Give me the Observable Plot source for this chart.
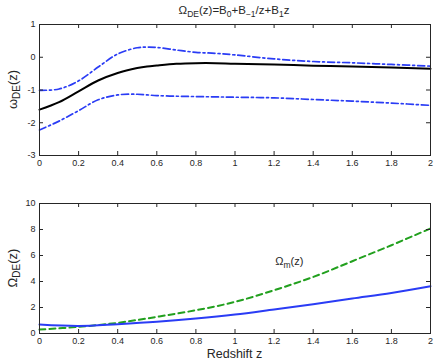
<!DOCTYPE html>
<html><head><meta charset="utf-8">
<script src="https://cdn.jsdelivr.net/npm/d3@7"></script>
<script src="https://cdn.jsdelivr.net/npm/@observablehq/plot@0.6"></script>
<style>
body{margin:0;background:#fff;}
#wrap{position:relative;width:436px;height:362px;font-family:"Liberation Sans",Arial,sans-serif;color:#262626;}
#title{height:20px;position:relative;}
#title span{position:absolute;left:234px;top:4px;transform:translateX(-50%);font-size:11.5px;white-space:nowrap;}
sub{font-size:8.5px;vertical-align:-3px;line-height:0;}
svg{display:block;}
</style></head>
<body><div id="wrap"><div id="title"><span>Ω<sub>DE</sub>(z)=B<sub>0</sub>+B<sub>−1</sub>/z+B<sub>1</sub>z</span></div></div>
<script>
// ---- data ----
const zTop = [0,0.1,0.2,0.3,0.4,0.5,0.55,0.6,0.7,0.8,0.9,1.0,1.2,1.4,1.6,1.8,2.0];
const wCentral = [-1.6,-1.37,-1.04,-0.71,-0.48,-0.33,-0.28,-0.25,-0.2,-0.18,-0.18,-0.2,-0.22,-0.26,-0.28,-0.31,-0.35];
const wUpper =   [-1.01,-0.97,-0.72,-0.3,0.1,0.29,0.31,0.3,0.22,0.15,0.12,0.07,-0.05,-0.13,-0.17,-0.22,-0.27];
const wLower =   [-2.22,-1.95,-1.63,-1.3,-1.15,-1.13,-1.15,-1.17,-1.19,-1.2,-1.21,-1.22,-1.24,-1.29,-1.34,-1.4,-1.47];
const zBot = [0,0.2,0.4,0.6,0.8,1.0,1.2,1.4,1.6,1.8,2.0];
const omegaDE = [0.69,0.58,0.72,0.9,1.15,1.46,1.85,2.25,2.69,3.12,3.64];
const omegaM =  [0.3,0.51,0.82,1.28,1.79,2.43,3.33,4.35,5.56,6.79,8.08];
const xTicks = [0,0.2,0.4,0.6,0.8,1,1.2,1.4,1.6,1.8,2];
const yTicksTop = [-3,-2,-1,0,1];
const yTicksBot = [0,2,4,6,8,10];
const annotation = {z: 1.28, y: 5.2};

const W = 436, ML = 39, MR = 6;
const ink = "#262626", blue = "#2a3cf5", green = "#22a01e";
const fmt = d => String(d);
const font = {fontSize: "9px", fontFamily: "'Liberation Sans',Arial,sans-serif", color: ink, background: "#fff"};

function frameMarks(xt, yt, ph) {
  const pw = W - ML - MR;
  return [
    Plot.axisX(xt, {tickSize: 0, tickPadding: 4, tickFormat: fmt, label: null}),
    Plot.axisY(yt, {tickSize: 0, tickPadding: 4, tickFormat: fmt, label: null}),
    Plot.tickX(xt, {x: d => d, insetTop: ph - 4, stroke: ink}),
    Plot.tickX(xt, {x: d => d, insetBottom: ph - 4, stroke: ink}),
    Plot.tickY(yt, {y: d => d, insetRight: pw - 4, stroke: ink}),
    Plot.tickY(yt, {y: d => d, insetLeft: pw - 4, stroke: ink}),
    Plot.frame({stroke: ink, strokeWidth: 1})
  ];
}

function addYLabel(svg, cx, cy, main, sub, tail) {
  const t = d3.select(svg).append("text")
    .attr("transform", `translate(${cx},${cy}) rotate(-90)`)
    .attr("text-anchor", "middle").attr("fill", ink)
    .attr("font-size", 13).attr("font-family", "'Liberation Sans',Arial,sans-serif");
  t.append("tspan").text(main);
  t.append("tspan").attr("font-size", 10).attr("dy", 3).text(sub);
  t.append("tspan").attr("dy", -3).text(tail);
}

// ---- top panel ----
const topRows = zTop.map((z, i) => ({z, c: wCentral[i], u: wUpper[i], l: wLower[i]}));
const H1 = 160, MT1 = 4, MB1 = 25;
const topChart = Plot.plot({
  width: W, height: H1, marginLeft: ML, marginRight: MR, marginTop: MT1, marginBottom: MB1,
  style: font,
  x: {domain: [0, 2]},
  y: {domain: [-3, 1]},
  marks: [
    Plot.line(topRows, {x: "z", y: "u", stroke: blue, strokeWidth: 1.7, strokeDasharray: "7,3,2,3", curve: "catmull-rom"}),
    Plot.line(topRows, {x: "z", y: "l", stroke: blue, strokeWidth: 1.7, strokeDasharray: "7,3,2,3", curve: "catmull-rom"}),
    Plot.line(topRows, {x: "z", y: "c", stroke: "#000", strokeWidth: 2, curve: "catmull-rom"}),
    ...frameMarks(xTicks, yTicksTop, H1 - MT1 - MB1)
  ]
});
addYLabel(topChart, 17, (MT1 + H1 - MB1) / 2, "ω", "DE", "(z)");
document.getElementById("wrap").appendChild(topChart);

// ---- bottom panel ----
const botRows = zBot.map((z, i) => ({z, de: omegaDE[i], m: omegaM[i]}));
const H2 = 182, MT2 = 23, MB2 = 29;
const botChart = Plot.plot({
  width: W, height: H2, marginLeft: ML, marginRight: MR, marginTop: MT2, marginBottom: MB2,
  style: font,
  x: {domain: [0, 2]},
  y: {domain: [0, 10]},
  marks: [
    Plot.line(botRows, {x: "z", y: "m", stroke: green, strokeWidth: 2, strokeDasharray: "6,4", curve: "catmull-rom"}),
    Plot.line(botRows, {x: "z", y: "de", stroke: blue, strokeWidth: 2, curve: "catmull-rom"}),
    ...frameMarks(xTicks, yTicksBot, H2 - MT2 - MB2)
  ]
});
addYLabel(botChart, 17, (MT2 + H2 - MB2) / 2, "Ω", "DE", "(z)");
{
  const sx = botChart.scale("x"), sy = botChart.scale("y");
  const t = d3.select(botChart).append("text")
    .attr("x", sx.apply(annotation.z)).attr("y", sy.apply(annotation.y))
    .attr("fill", ink).attr("font-size", 11).attr("font-family", "'Liberation Sans',Arial,sans-serif");
  t.append("tspan").text("Ω");
  t.append("tspan").attr("font-size", 8.5).attr("dy", 3).text("m");
  t.append("tspan").attr("dy", -3).text("(z)");
  d3.select(botChart).append("text")
    .attr("x", sx.apply(1)).attr("y", H2 - 4)
    .attr("text-anchor", "middle").attr("fill", ink)
    .attr("font-size", 12.5).attr("font-family", "'Liberation Sans',Arial,sans-serif")
    .text("Redshift z");
}
document.getElementById("wrap").appendChild(botChart);
</script>
</body></html>
